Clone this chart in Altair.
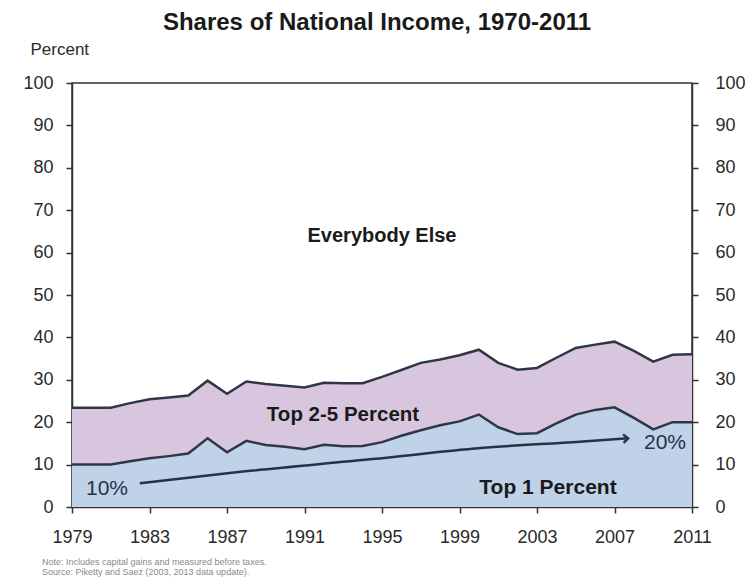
import altair as alt
import pandas as pd

years = list(range(1979, 2012))
top1 = [10.0, 10.0, 10.0, 10.8, 11.5, 12.0, 12.6, 16.2, 12.9, 15.6, 14.6, 14.2, 13.6,
        14.7, 14.3, 14.4, 15.3, 16.8, 18.1, 19.3, 20.2, 21.8, 18.8, 17.2, 17.4, 19.7,
        21.8, 22.9, 23.5, 21.0, 18.3, 20.0, 20.0]
top5 = [23.4, 23.4, 23.4, 24.5, 25.4, 25.8, 26.3, 29.8, 26.7, 29.6, 29.0, 28.6, 28.2,
        29.3, 29.2, 29.2, 30.7, 32.3, 34.0, 34.8, 35.8, 37.1, 34.0, 32.4, 32.8, 35.2,
        37.5, 38.3, 39.0, 36.8, 34.3, 35.9, 36.0]

arrow_years = [1982.5, 1987.7, 1994.5, 2000.1, 2005.2, 2007.7]
arrow_vals = [5.6, 8.3, 11.3, 13.9, 15.4, 16.2]

tick_years = [1979, 1983, 1987, 1991, 1995, 1999, 2003, 2007, 2011]
tick_pct = [0, 10, 20, 30, 40, 50, 60, 70, 80, 90, 100]

df = pd.DataFrame({"year": years, "top1": top1, "top5": top5})
arr = pd.DataFrame({"year": arrow_years, "val": arrow_vals})
head = arr.tail(1)

FONT = "Liberation Sans"
NAVY = "#26324a"
LINE = "#2f3747"

xscale = alt.Scale(domain=[1979, 2011], nice=False, zero=False)
yscale = alt.Scale(domain=[0, 100], nice=False)

xenc = alt.X("year:Q", scale=xscale, title=None,
             axis=alt.Axis(values=tick_years, format="d", labelFontSize=18, labelFont=FONT,
                           labelColor="#2a2a2a", tickSize=6, tickColor="#333", domainColor="#333",
                           domainWidth=1.5, tickWidth=1.5, labelPadding=15, grid=False,
                           labelFlush=False))

left_axis = alt.Axis(values=tick_pct, labelFontSize=18, labelFont=FONT, labelColor="#2a2a2a",
                     tickSize=6, tickColor="#333", tickWidth=1.5, domainColor="#333", domainWidth=1.5,
                     labelPadding=13, grid=False, title="Percent", titleAngle=0, titleAlign="left",
                     titleBaseline="middle", titleX=-42, titleY=-34, titleFontSize=17,
                     titleFontWeight="normal", titleFont=FONT, titleColor="#2a2a2a")

right_axis = alt.Axis(values=tick_pct, orient="right", labelFontSize=18, labelFont=FONT,
                      labelColor="#2a2a2a", tickSize=6, tickColor="#333", tickWidth=1.5,
                      domainColor="#333", domainWidth=1.5, labelPadding=17, grid=False, title=None)

base = alt.Chart(df)

area1 = base.mark_area(color="#c0d2e7", opacity=1).encode(
    x=xenc, y=alt.Y("top1:Q", scale=yscale, axis=left_axis))
area5 = base.mark_area(color="#d8c6df", opacity=1).encode(
    x=xenc, y=alt.Y("top5:Q", scale=yscale), y2="top1:Q")
line1 = base.mark_line(color=LINE, strokeWidth=2.5).encode(x=xenc, y=alt.Y("top1:Q", scale=yscale))
line5 = base.mark_line(color=LINE, strokeWidth=2.5).encode(x=xenc, y=alt.Y("top5:Q", scale=yscale))

arrow = alt.Chart(arr).mark_line(color=NAVY, strokeWidth=2.5, interpolate="monotone").encode(
    x=xenc, y=alt.Y("val:Q", scale=yscale))
arrowhead = alt.Chart(head).mark_point(shape="M-1,-0.9L0,0L-1,0.9", filled=False, color=NAVY,
                                       strokeWidth=2.5, size=90, angle=356, opacity=1).encode(
    x=xenc, y=alt.Y("val:Q", scale=yscale))


def label(text, x, y, size, weight="bold", color="#1a1a1a", align="center", font=FONT):
    return alt.Chart(pd.DataFrame({"t": [text]})).mark_text(
        fontSize=size, fontWeight=weight, color=color, align=align, baseline="middle", font=font
    ).encode(text="t:N", x=alt.value(x), y=alt.value(y))


texts = [
    label("Shares of National Income, 1970-2011", 305, -60, 24),
    label("Everybody  Else", 310, 153, 20),
    label("Top 2-5 Percent", 271, 332, 20.5),
    label("Top 1 Percent", 476, 405, 21),
    label("10%", 35, 406, 21, weight="normal", color=NAVY),
    label("20%", 593, 360, 21, weight="normal", color=NAVY),
    label("Note: Includes capital gains and measured before taxes.", -30, 479, 9,
          weight="normal", color="#8a8a8a", align="left"),
    label("Source: Piketty and Saez (2003, 2013 data update).", -30, 489, 9,
          weight="normal", color="#8a8a8a", align="left"),
]

inner = alt.layer(area1, area5, line1, line5, arrow, arrowhead, *texts)

right = base.mark_line(opacity=0).encode(
    x=xenc, y=alt.Y("top5:Q", scale=yscale, axis=right_axis))

chart = alt.layer(inner, right).resolve_scale(y="independent").properties(
    width=620, height=424,
    padding={"left": 64, "top": 75, "right": 53, "bottom": 72},
    autosize=alt.AutoSizeParams(type="none"),
    background="white",
).configure_view(stroke="#333", strokeWidth=1.5)

chart.save("out.html", embed_options={"renderer": "svg", "actions": False})
